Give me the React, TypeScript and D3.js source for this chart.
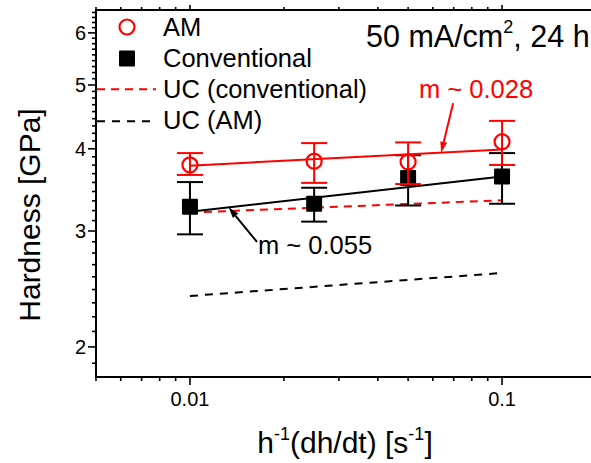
import React from 'react';
import * as d3 from 'd3';

// strain-rate sweep, log-log
const rates = [0.01, 0.025, 0.05, 0.1];

const amHardness = [3.78, 3.83, 3.82, 4.1];
const amLow = [3.65, 3.55, 3.535, 3.78];
const amHigh = [3.94, 4.08, 4.09, 4.41];

const convHardness = [3.265, 3.3, 3.61, 3.63];
const convLow = [2.965, 3.1, 3.28, 3.3];
const convHigh = [3.56, 3.49, 3.91, 3.94];

// fit / upper-bound lines, given at the end rates
const lineRates = [0.01, 0.1];
const amFit = [3.77, 3.99];
const convFit = [3.21, 3.63];
const ucConventional = [3.2, 3.34];
const ucAM = [2.39, 2.59];

const xMajor = [0.01, 0.1];
const xMajorLabels = ['0.01', '0.1'];
const yMajor = [2, 3, 4, 5, 6];
const yMajorLabels = ['2', '3', '4', '5', '6'];

const W = 591;
const H = 463;
const FONT = '"Liberation Sans", Arial, sans-serif';
const RED = '#ff0000';

const x = d3.scaleLog().domain([0.005, 0.2]).range([96, 596]);
const y = d3.scaleLog().domain([1.8, 6.5]).range([377, 10]);

// minor y ticks: 8 per interval between the major values
const yMinor: number[] = [];
[1, 2, 3, 4, 5, 6].forEach(v => {
  for (let k = 1; k < 9; k++) {
    const t = v + k / 9;
    if (t > 1.8 && t < 6.5 && !yMajor.includes(t)) yMinor.push(t);
  }
});
const xMinor = x.ticks().filter(t => !xMajor.some(m => Math.abs(m - t) < 1e-9));

const Arrow = ({ x1, y1, x2, y2, color }: any) => {
  const ang = Math.atan2(y2 - y1, x2 - x1);
  const len = 11, hw = 3.5;
  const bx = x2 - len * Math.cos(ang), by = y2 - len * Math.sin(ang);
  const px = -Math.sin(ang) * hw, py = Math.cos(ang) * hw;
  return (
    <g>
      <line x1={x1} y1={y1} x2={bx} y2={by} stroke={color} strokeWidth={2} />
      <polygon points={`${x2},${y2} ${bx + px},${by + py} ${bx - px},${by - py}`} fill={color} />
    </g>
  );
};

const fitLine = d3.line<number>().x((_, i) => x(lineRates[i])).y(d => y(d));

const ErrorBars = ({ low, high, color }: any) => (
  <g stroke={color} strokeWidth={2}>
    {rates.map((r, i) => (
      <g key={i}>
        <line x1={x(r)} x2={x(r)} y1={y(low[i])} y2={y(high[i])} />
        <line x1={x(r) - 13} x2={x(r) + 13} y1={y(low[i])} y2={y(low[i])} />
        <line x1={x(r) - 13} x2={x(r) + 13} y1={y(high[i])} y2={y(high[i])} />
      </g>
    ))}
  </g>
);

export default function App() {
  const amTipX = 0.0638;
  const amTipY = amFit[0] * Math.pow(amTipX / 0.01, Math.log10(amFit[1] / amFit[0]));
  const cTipX = 0.0133;
  const cTipY = convFit[0] * Math.pow(cTipX / 0.01, Math.log10(convFit[1] / convFit[0]));

  return (
    <svg width={W} height={H} style={{ position: 'absolute', left: 0, top: 0, background: '#fff' }}
      fontFamily={FONT}>
      {/* upper-bound dashed lines */}
      <path d={fitLine(ucAM) || ''} fill="none" stroke="#000" strokeWidth={2} strokeDasharray="8,7" />
      <path d={fitLine(ucConventional) || ''} fill="none" stroke={RED} strokeWidth={2} strokeDasharray="8,6" />

      {/* conventional */}
      <ErrorBars low={convLow} high={convHigh} color="#000" />
      <path d={fitLine(convFit) || ''} fill="none" stroke="#000" strokeWidth={2} />
      {rates.map((r, i) => (
        <rect key={i} x={x(r) - 8} y={y(convHardness[i]) - 8} width={16} height={16} fill="#000" rx={1} />
      ))}

      {/* AM */}
      <ErrorBars low={amLow} high={amHigh} color={RED} />
      <path d={fitLine(amFit) || ''} fill="none" stroke={RED} strokeWidth={2} />
      {rates.map((r, i) => (
        <circle key={i} cx={x(r)} cy={y(amHardness[i])} r={7.5} fill="none" stroke={RED} strokeWidth={2.2} />
      ))}

      {/* annotations */}
      <Arrow x1={x(0.0697)} y1={y(4.69)} x2={x(amTipX)} y2={y(amTipY)} color={RED} />
      <text x={419} y={98} fontSize={25.5} fill={RED}>m ~ 0.028</text>
      <Arrow x1={x(0.0164)} y1={y(2.887)} x2={x(cTipX)} y2={y(cTipY)} color="#000" />
      <text x={258} y={253.5} fontSize={25.5} fill="#000">m ~ 0.055</text>

      <text x={366} y={47.3} fontSize={30.5}>
        50 mA/cm<tspan fontSize={18} dy={-14}>2</tspan><tspan dy={14}>, 24 h</tspan>
      </text>

      {/* axes */}
      <g stroke="#000" strokeWidth={1.6}>
        {xMajor.map(t => <line key={t} x1={x(t)} x2={x(t)} y1={377} y2={385} />)}
        {xMinor.map(t => <line key={t} x1={x(t)} x2={x(t)} y1={377} y2={381} />)}
        {xMajor.map(t => <line key={'t' + t} x1={x(t)} x2={x(t)} y1={10} y2={5} />)}
        {xMinor.map(t => <line key={'t' + t} x1={x(t)} x2={x(t)} y1={10} y2={7} />)}
        {yMajor.map(t => <line key={t} x1={96} x2={88} y1={y(t)} y2={y(t)} />)}
        {yMinor.map(t => <line key={t} x1={96} x2={92} y1={y(t)} y2={y(t)} />)}
      </g>
      <path d="M96,10 L596,10 M96,9 L96,378 M95,377 L596,377" fill="none" stroke="#000" strokeWidth={2} />

      {xMajor.map((t, i) => (
        <text key={t} x={x(t)} y={406} fontSize={20} textAnchor="middle">{xMajorLabels[i]}</text>
      ))}
      {yMajor.map((t, i) => (
        <text key={t} x={86} y={y(t) + 7} fontSize={20} textAnchor="end">{yMajorLabels[i]}</text>
      ))}

      <text transform="translate(39.5,215) rotate(-90)" fontSize={30} textAnchor="middle">Hardness [GPa]</text>
      <text x={345} y={453} fontSize={30} textAnchor="middle">
        h<tspan fontSize={18} dy={-13}>-1</tspan><tspan dy={13}>(dh/dt) [s</tspan>
        <tspan fontSize={18} dy={-13}>-1</tspan><tspan dy={13}>]</tspan>
      </text>

      {/* legend */}
      <circle cx={127} cy={27} r={7.5} fill="none" stroke={RED} strokeWidth={2.2} />
      <text x={163} y={35.7} fontSize={25.5}>AM</text>
      <rect x={119} y={50.5} width={16} height={16} fill="#000" rx={1} />
      <text x={163} y={66.7} fontSize={25.5}>Conventional</text>
      <line x1={97} x2={156} y1={89.3} y2={89.3} stroke={RED} strokeWidth={2} strokeDasharray="8,6" />
      <text x={163} y={97.5} fontSize={25.5}>UC (conventional)</text>
      <line x1={97} x2={156} y1={121.3} y2={121.3} stroke="#000" strokeWidth={2} strokeDasharray="8,7" />
      <text x={163} y={128.5} fontSize={25.5}>UC (AM)</text>
    </svg>
  );
}
